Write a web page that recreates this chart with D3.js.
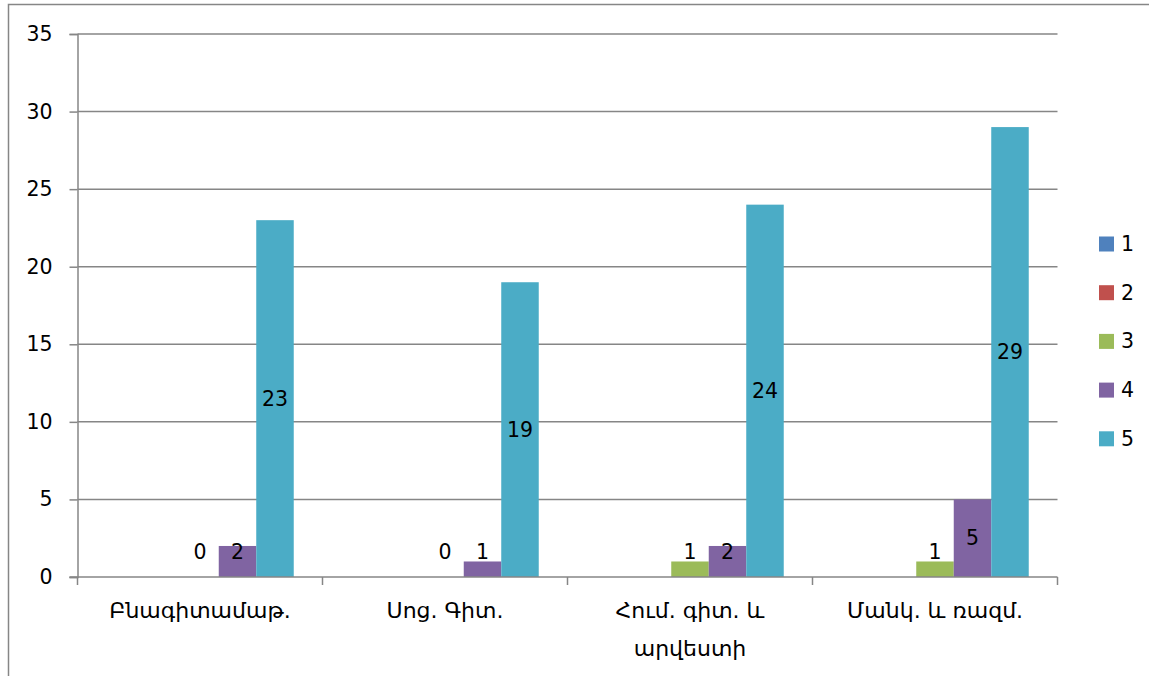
<!DOCTYPE html>
<html>
	<head>
		<meta charset="utf-8">
		<title>Chart</title>
		<style>
			html, body { margin: 0; background: #fff; }
			body { font-family: "DejaVu Sans", "Noto Sans", sans-serif; }
			.tick text, .lbl, .leg text { fill: #000; }
		</style>
	</head>
	<body>
		<div id="chart"></div>
		<script src="https://cdn.jsdelivr.net/npm/d3@7"></script>
		<script>
			var categories = [["Բնագիտամաթ."], ["Սոց. Գիտ."], ["Հում. գիտ. և", "արվեստի"], ["Մանկ. և ռազմ."]]
			var seriesNames = ["1", "2", "3", "4", "5"]
			var seriesColors = ["#4F81BD", "#C0504D", "#9BBB59", "#8064A2", "#4BACC6"]
			var s1 = [null, null, null, null]
			var s2 = [null, null, null, null]
			var s3 = [0, 0, 1, 1]
			var s4 = [2, 1, 2, 5]
			var s5 = [23, 19, 24, 29]
			var yTicks = [0, 5, 10, 15, 20, 25, 30, 35]

			var series = [s1, s2, s3, s4, s5]
			var W = 1149, H = 676
			var plotL = 77.5, plotR = 1057.5, plotT = 34, plotB = 577
			var grey = "#868686"
			var fs = 20.5

			var svg = d3.select("#chart").append("svg")
				.attr("width", W)
				.attr("height", H)

			// outer frame (runs off the right and bottom edge)
			svg.append("rect")
				.attr("x", 8.5).attr("y", 4.5)
				.attr("width", W + 20).attr("height", H + 20)
				.attr("fill", "none").attr("stroke", grey).attr("stroke-width", 1.5)

			var x0 = d3.scaleBand().domain(d3.range(categories.length)).range([plotL, plotR]).padding(0)
			var x1 = d3.scaleBand().domain(d3.range(seriesNames.length)).range([0, x0.bandwidth()])
				.paddingInner(0).paddingOuter(0.767)
			var y = d3.scaleLinear().domain([0, 35]).range([plotB, plotT])

			// gridlines
			svg.append("g").selectAll("line")
				.data(yTicks.filter(function(d) { return d > 0 }))
				.enter().append("line")
				.attr("x1", plotL).attr("x2", plotR)
				.attr("y1", function(d) { return y(d) }).attr("y2", function(d) { return y(d) })
				.attr("stroke", grey).attr("stroke-width", 1.5)

			// y axis
			var yAxis = d3.axisLeft(y).tickValues(yTicks).tickSize(8).tickPadding(17).tickFormat(d3.format("d"))
			var gy = svg.append("g").attr("transform", "translate(" + plotL + ",0)").call(yAxis)
			gy.select(".domain").attr("stroke", grey).attr("stroke-width", 1.5)
			gy.selectAll(".tick line").attr("stroke", grey).attr("stroke-width", 1.5)
			gy.selectAll(".tick text").attr("font-size", fs).attr("font-family", "DejaVu Sans, sans-serif")

			// bars
			var groups = svg.append("g").selectAll("g")
				.data(categories)
				.enter().append("g")
				.attr("transform", function(d, i) { return "translate(" + x0(i) + ",0)" })

			groups.selectAll("rect")
				.data(function(d, i) { return series.map(function(s, j) { return { s: j, v: s[i] } }) })
				.enter().append("rect")
				.filter(function(d) { return d.v != null && d.v > 0 })
				.attr("x", function(d) { return x1(d.s) })
				.attr("width", x1.bandwidth())
				.attr("y", function(d) { return y(d.v) })
				.attr("height", function(d) { return y(0) - y(d.v) })
				.attr("fill", function(d) { return seriesColors[d.s] })

			// data labels
			groups.selectAll("text.lbl")
				.data(function(d, i) { return series.map(function(s, j) { return { s: j, v: s[i] } }).filter(function(d) { return d.v != null }) })
				.enter().append("text")
				.attr("class", "lbl")
				.attr("text-anchor", "middle")
				.attr("dominant-baseline", "central")
				.attr("font-size", fs)
				.attr("x", function(d) { return x1(d.s) + x1.bandwidth() / 2 })
				.attr("y", function(d) { return Math.min((y(0) + y(d.v)) / 2, y(0) - 25) })
				.text(function(d) { return d.v })

			// x axis
			var gx = svg.append("g")
			gx.append("line")
				.attr("x1", plotL - 8).attr("x2", plotR)
				.attr("y1", plotB).attr("y2", plotB)
				.attr("stroke", grey).attr("stroke-width", 1.5)
			gx.selectAll("line.tk")
				.data(d3.range(categories.length + 1))
				.enter().append("line")
				.attr("class", "tk")
				.attr("x1", function(d) { return plotL + d * x0.step() })
				.attr("x2", function(d) { return plotL + d * x0.step() })
				.attr("y1", plotB).attr("y2", plotB + 8)
				.attr("stroke", grey).attr("stroke-width", 1.5)

			gx.selectAll("text")
				.data(categories)
				.enter().append("text")
				.attr("text-anchor", "middle")
				.attr("font-size", 22)
				.attr("x", function(d, i) { return x0(i) + x0.bandwidth() / 2 })
				.attr("y", 618)
				.each(function(d) {
					var t = d3.select(this)
					d.forEach(function(line, k) {
						t.append("tspan")
							.attr("x", t.attr("x"))
							.attr("dy", k ? 38 : 0)
							.text(line)
					})
				})

			// legend
			var leg = svg.append("g").attr("class", "leg")
				.selectAll("g").data(seriesNames)
				.enter().append("g")
				.attr("transform", function(d, i) { return "translate(1099," + (244 + i * 48.7) + ")" })
			leg.append("rect")
				.attr("x", 0).attr("y", -7.5)
				.attr("width", 15).attr("height", 15)
				.attr("fill", function(d, i) { return seriesColors[i] })
			leg.append("text")
				.attr("x", 22)
				.attr("dominant-baseline", "central")
				.attr("font-size", fs)
				.text(function(d) { return d })
		</script>
	</body>
</html>
